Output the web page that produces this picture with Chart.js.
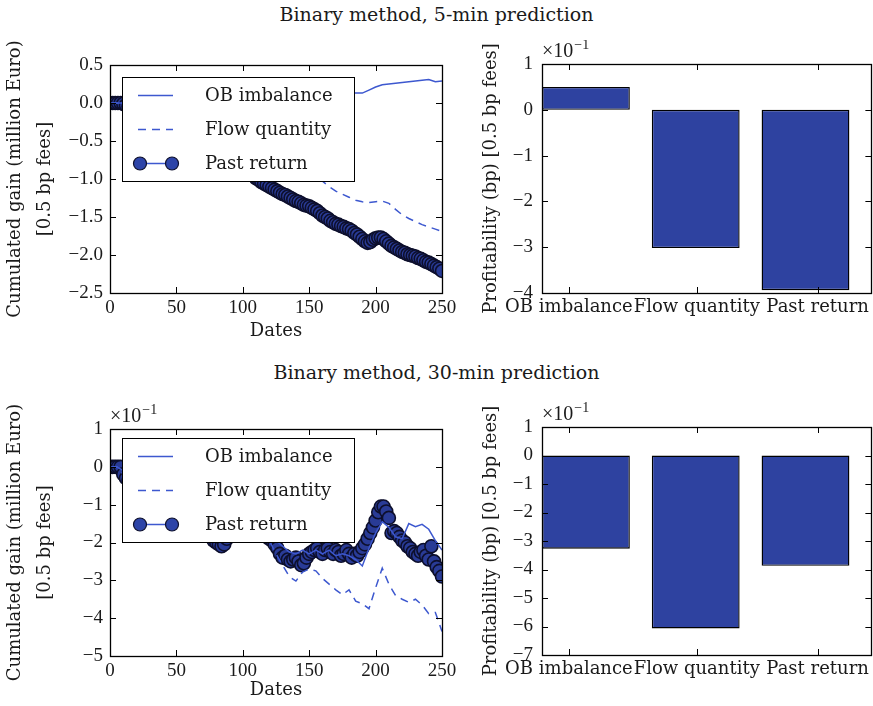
<!DOCTYPE html>
<html>
<head>
<meta charset="utf-8">
<script src="https://cdn.jsdelivr.net/npm/chart.js@4.4.1/dist/chart.umd.min.js"></script>
<style>
  body { margin: 0; background: #fff; }
  #fig { position: relative; width: 873px; height: 706px; font-family: 'DejaVu Serif', serif; color: #1a1a1a; }
  .sup { position: absolute; left: 0; width: 873px; text-align: center; font-size: 19px; line-height: 24px; }
  canvas { position: absolute; }
</style>
</head>
<body>
<div id="fig">
  <div class="sup" style="top:2px">Binary method, 5-min prediction</div>
  <div class="sup" style="top:360px">Binary method, 30-min prediction</div>
  <canvas id="c1" width="462" height="310" style="left:0;top:40px"></canvas>
  <canvas id="c2" width="408" height="310" style="left:465px;top:40px"></canvas>
  <canvas id="c3" width="462" height="306" style="left:0;top:400px"></canvas>
  <canvas id="c4" width="408" height="306" style="left:465px;top:400px"></canvas>
</div>
<script>
// dates for the two plain lines, every 5 days
const dates = [0,5,10,15,20,25,30,35,40,45,50,55,60,65,70,75,80,85,90,95,100,105,110,115,120,125,130,135,140,145,
  150,155,160,165,170,175,180,185,190,195,200,205,210,215,220,225,230,235,240,245,250]
// dates for the marker series, every 2 days
const pastDates = [0,2,4,6,8,10,12,14,16,18,20,22,24,26,28,30,32,34,36,38,40,42,44,46,48,50,52,54,56,58,
  60,62,64,66,68,70,72,74,76,78,80,82,84,86,88,90,92,94,96,98,100,102,104,106,108,110,112,114,116,118,
  120,122,124,126,128,130,132,134,136,138,140,142,144,146,148,150,152,154,156,158,160,162,164,166,168,170,172,174,176,178,
  180,182,184,186,188,190,192,194,196,198,200,202,204,206,208,210,212,214,216,218,220,222,224,226,228,230,232,234,236,238,
  240,242,244,246,248,250]

// 5-min prediction, cumulated gain (million Euro)
const ob5 = [0,0,0,0.01,0.02,0.01,0.03,0.04,0.03,0.05, 0.06,0.05,0.07,0.08,0.06,0.08,0.09,0.1,0.08,0.09,
  0.11,0.1,0.12,0.11,0.13,0.12,0.14,0.13,0.12,0.14, 0.13,0.12,0.13,0.12,0.13,0.12,0.13,0.13,0.13,0.17,
  0.21,0.24,0.25,0.26,0.27,0.28,0.29,0.3,0.31,0.28, 0.29]
const flow5 = [0,0,-0.02,-0.05,-0.08,-0.1,-0.14,-0.17,-0.2,-0.22, -0.27,-0.3,-0.33,-0.36,-0.4,-0.43,-0.46,-0.5,-0.53,-0.57,
  -0.6,-0.63,-0.67,-0.7,-0.73,-0.76,-0.8,-0.83,-0.86,-0.9, -0.93,-0.96,-1.03,-1.1,-1.16,-1.2,-1.24,-1.28,-1.3,-1.31,
  -1.3,-1.29,-1.32,-1.4,-1.47,-1.52,-1.56,-1.6,-1.63,-1.66, -1.69]
const past5 = [0,0,0,0,0,-0.01,-0.03,-0.05,-0.06,-0.08,
  -0.1,-0.11,-0.13,-0.15,-0.17,-0.19,-0.2,-0.22,-0.24,-0.26,
  -0.28,-0.29,-0.31,-0.33,-0.35,-0.37,-0.38,-0.4,-0.42,-0.44,
  -0.46,-0.47,-0.49,-0.51,-0.53,-0.55,-0.57,-0.59,-0.61,-0.63,
  -0.64,-0.66,-0.68,-0.7,-0.72,-0.74,-0.76,-0.78,-0.8,-0.82,
  -0.85,-0.88,-0.9,-0.93,-0.96,-0.99,-1.01,-1.04,-1.06,-1.08,
  -1.1,-1.12,-1.14,-1.16,-1.18,-1.2,-1.21,-1.23,-1.25,-1.27,
  -1.29,-1.3,-1.32,-1.34,-1.35,-1.36,-1.38,-1.4,-1.42,-1.45,
  -1.48,-1.5,-1.52,-1.55,-1.57,-1.59,-1.6,-1.62,-1.63,-1.65,
  -1.66,-1.68,-1.71,-1.73,-1.76,-1.79,-1.82,-1.84,-1.83,-1.8,
  -1.78,-1.77,-1.77,-1.79,-1.82,-1.85,-1.88,-1.9,-1.92,-1.94,
  -1.96,-1.97,-1.99,-2.0,-2.01,-2.02,-2.04,-2.05,-2.07,-2.09,
  -2.1,-2.12,-2.14,-2.16,-2.18,-2.21]

// 30-min prediction, cumulated gain in units of 1e-1 million Euro
const ob30 = [0,0,-0.1,-0.2,-0.3,-0.25,-0.4,-0.5,-0.45,-0.6, -0.7,-0.8,-0.75,-0.9,-1.0,-1.1,-1.2,-1.3,-1.25,-1.4,
  -1.5,-1.6,-1.55,-1.7,-1.8,-1.95,-2.1,-2.25,-2.3,-2.2, -2.3,-2.2,-2.3,-2.2,-2.35,-2.3,-2.35,-2.45,-2.62,-2.15,
  -1.75,-1.45,-1.6,-1.85,-1.9,-1.5,-1.58,-1.52,-1.65,-1.95, -2.2]
const flow30 = [0,0,-0.2,-0.3,-0.4,-0.5,-0.6,-0.65,-0.8,-0.9, -1.0,-1.1,-1.2,-1.3,-1.35,-1.5,-1.6,-1.7,-1.75,-1.8,
  -1.8,-1.85,-1.85,-1.9,-1.95,-2.3,-2.6,-2.9,-3.02,-2.78, -2.7,-2.75,-2.95,-3.1,-3.25,-3.38,-3.25,-3.55,-3.62,-3.75,
  -3.2,-2.68,-3.1,-3.4,-3.5,-3.58,-3.5,-3.65,-3.88,-3.85, -4.35]
const past30 = [0,0,0,0,0,
  -0.2,-0.3,-0.35,-0.45,-0.5,-0.6,-0.65,-0.75,-0.8,-0.85,
  -0.9,-1.0,-1.05,-1.1,-1.15,-1.2,-1.25,-1.3,-1.35,-1.45,
  -1.5,-1.55,-1.6,-1.6,-1.65,-1.7,-1.7,-1.72,-1.75,-1.75,
  -1.78,-1.8,-1.8,-1.85,-1.95,-2.0,-2.05,-2.1,-2.05,-1.9,
  -1.8,-1.75,-1.7,-1.7,-1.65,-1.65,-1.7,-1.7,-1.72,-1.75,
  -1.78,-1.8,-1.8,-1.82,-1.85,-1.9,-1.95,-2.05,
  -2.15,-2.3,-2.4,-2.35,-2.45,-2.5,-2.45,-2.4,-2.5,-2.6,
  -2.55,-2.4,-2.3,-2.25,-2.2,-2.15,-2.25,-2.3,-2.2,-2.15,
  -2.25,-2.3,-2.2,-2.25,-2.35,-2.3,-2.2,-2.3,-2.4,-2.3,
  -2.35,-2.25,-2.15,-2.05,-1.9,-1.75,-1.6,-1.42,-1.2,-1.05,
  -1.05,-1.18,-1.35,-1.75,-1.7,-1.75,-1.85,-1.95,-2.0,-2.1,
  -2.15,-2.25,-2.3,-2.35,-2.25,-2.2,-2.35,-2.45,-2.1,-2.5,
  -2.65,-2.75,-2.9]

// profitability (bp), units of 1e-1
const methods = ['OB imbalance', 'Flow quantity', 'Past return']
const barPos = [0, 1, 2]
const barTickPos = [-0.155, 1.01, 2.11]
const bars5 = [0.5, -3.02, -3.94]
const bars30 = [-3.27, -6.07, -3.87]

const LINE = '#3d58cf'
const BAR = '#2e42a0'
const TEXT = 'DejaVu Serif'
const NUM = 'Liberation Serif'
Chart.defaults.font.family = NUM
Chart.defaults.color = '#1a1a1a'

const minus = s => String(s).replace('-', '\u2212')

// frame, inward ticks, boxed legend and the x10^-1 multiplier
const decor = {
	id: 'decor',
	afterDatasetsDraw(chart, args, opts) {
		const { ctx, chartArea: a, scales } = chart
		ctx.save()
		if (opts.legend) {
			const x0 = a.left + 12, y0 = a.top + opts.legendTop
			ctx.fillStyle = '#fff'
			ctx.fillRect(x0, y0, 232, 104)
			ctx.strokeStyle = '#000'
			ctx.lineWidth = 1
			ctx.strokeRect(Math.round(x0) + 0.5, Math.round(y0) + 0.5, 232, 104)
			chart.data.datasets.forEach((ds, i) => {
				const y = y0 + 18.5 + i * 34
				ctx.strokeStyle = LINE
				ctx.lineWidth = 1.5
				ctx.setLineDash(ds.borderDash || [])
				ctx.beginPath()
				ctx.moveTo(x0 + 16, y)
				ctx.lineTo(x0 + 51, y)
				ctx.stroke()
				ctx.setLineDash([])
				if (ds.pointRadius) {
					;[x0 + 18, x0 + 50].forEach(px => {
						ctx.beginPath()
						ctx.arc(px, y, 6.5, 0, Math.PI * 2)
						ctx.fillStyle = '#2d44a8'
						ctx.fill()
						ctx.strokeStyle = ds.pointBorderColor
						ctx.lineWidth = 1.2
						ctx.stroke()
					})
				}
				ctx.fillStyle = '#1a1a1a'
				ctx.font = '18px ' + TEXT
				ctx.textBaseline = 'middle'
				ctx.textAlign = 'left'
				ctx.fillText(ds.label, x0 + 83, y + 1)
			})
		}
		ctx.strokeStyle = '#000'
		ctx.lineWidth = 1
		ctx.beginPath()
		scales.x.ticks.forEach(t => {
			const px = Math.round(scales.x.getPixelForValue(t.value)) + 0.5
			ctx.moveTo(px, a.bottom); ctx.lineTo(px, a.bottom - 6)
			ctx.moveTo(px, a.top); ctx.lineTo(px, a.top + 6)
		})
		scales.y.ticks.forEach(t => {
			const py = Math.round(scales.y.getPixelForValue(t.value)) + 0.5
			ctx.moveTo(a.left, py); ctx.lineTo(a.left + 6, py)
			ctx.moveTo(a.right, py); ctx.lineTo(a.right - 6, py)
		})
		ctx.stroke()
		ctx.lineWidth = 1.3
		ctx.strokeRect(Math.round(a.left) + 0.5, Math.round(a.top) + 0.5, Math.round(a.right - a.left), Math.round(a.bottom - a.top))
		if (opts.mult) {
			ctx.fillStyle = '#1a1a1a'
			ctx.textBaseline = 'alphabetic'
			ctx.textAlign = 'left'
			ctx.font = '20px ' + NUM
			ctx.fillText('\u00d710', a.left, a.top - 7)
			const w = ctx.measureText('\u00d710').width
			ctx.font = '14px ' + NUM
			ctx.fillText('\u22121', a.left + w + 1, a.top - 15)
		}
		ctx.restore()
	},
}

function lineChart(id, ob, flow, past, yMin, yMax, yStep, fmt, pad, xHeight, datesPad, legendTop, mult) {
	const pts = (xs, arr) => xs.map((d, i) => ({ x: d, y: arr[i] }))
	new Chart(document.getElementById(id), {
		type: 'line',
		data: {
			datasets: [
				{ label: 'OB imbalance', data: pts(dates, ob), borderColor: LINE, borderWidth: 1.5, pointRadius: 0, clip: 0 },
				{ label: 'Flow quantity', data: pts(dates, flow), borderColor: LINE, borderWidth: 1.5, borderDash: [8, 6], pointRadius: 0, clip: 0 },
				{
					label: 'Past return', data: pts(pastDates, past), borderColor: LINE, borderWidth: 1.5, pointRadius: 6.5,
					pointBackgroundColor: '#293b96', pointBorderColor: '#0d0f2c', pointBorderWidth: 1.6, clip: 0,
				},
			],
		},
		options: {
			responsive: false,
			animation: false,
			events: [],
			layout: { padding: pad },
			plugins: { legend: { display: false }, tooltip: { enabled: false }, decor: { legend: true, legendTop, mult } },
			scales: {
				x: {
					type: 'linear', min: 0, max: 250,
					grid: { display: false, drawTicks: false }, border: { display: false },
					ticks: { stepSize: 50, padding: 4, font: { size: 19 }, maxRotation: 0 },
					title: { display: true, text: 'Dates', font: { family: TEXT, size: 18 }, padding: { top: 0, bottom: datesPad } },
					afterFit: s => { s.height = xHeight },
				},
				y: {
					min: yMin, max: yMax,
					grid: { display: false, drawTicks: false }, border: { display: false },
					ticks: { stepSize: yStep, padding: 7, font: { size: 19 }, callback: v => minus(fmt(v)) },
					title: {
						display: true, text: ['Cumulated gain (million Euro)', '[0.5 bp fees]'],
						font: { family: TEXT, size: 18, lineHeight: 30 / 18 }, padding: { top: 0, bottom: 0 },
					},
					afterFit: s => { s.width = 110 },
				},
			},
		},
		plugins: [decor],
	})
}

function barChart(id, vals, yMin, pad, xHeight) {
	new Chart(document.getElementById(id), {
		type: 'bar',
		data: {
			datasets: [{
				data: vals.map((v, i) => ({ x: barPos[i], y: v })),
				backgroundColor: BAR, borderColor: '#000', borderWidth: 1.4, borderSkipped: false,
				barPercentage: 0.8, categoryPercentage: 1,
			}],
		},
		options: {
			responsive: false,
			animation: false,
			events: [],
			layout: { padding: pad },
			plugins: { legend: { display: false }, tooltip: { enabled: false }, decor: { legend: false, mult: true } },
			scales: {
				x: {
					type: 'linear', min: -0.4, max: 2.6, offset: false,
					grid: { display: false, drawTicks: false }, border: { display: false },
					afterBuildTicks: s => { s.ticks = barTickPos.map(v => ({ value: v })) },
					ticks: {
						autoSkip: false, maxRotation: 0, minRotation: 0, padding: 4,
						font: { family: TEXT, size: 18 }, callback: (v, i) => methods[i],
					},
					afterFit: s => { s.height = xHeight },
				},
				y: {
					min: yMin, max: 1,
					grid: { display: false, drawTicks: false }, border: { display: false },
					ticks: { stepSize: 1, padding: 9, font: { size: 19 }, callback: v => minus(v) },
					title: {
						display: true, text: 'Profitability (bp) [0.5 bp fees]',
						font: { family: TEXT, size: 18, lineHeight: 1.1 }, padding: { top: 16, bottom: 0 },
					},
					afterFit: s => { s.width = 77 },
				},
			},
		},
		plugins: [decor],
	})
}

lineChart('c1', ob5, flow5, past5, -2.5, 0.5, 0.5, v => v.toFixed(1), { top: 25, right: 20, left: 0, bottom: 0 }, 57, 8, 12, false)
barChart('c2', bars5, -4, { top: 24, right: 1, left: 0, bottom: 0 }, 57)
lineChart('c3', ob30, flow30, past30, -5, 1, 1, v => String(v), { top: 29, right: 20, left: 0, bottom: 0 }, 50, 5, 9, true)
barChart('c4', bars30, -7, { top: 27, right: 1, left: 0, bottom: 0 }, 51)
</script>
</body>
</html>
